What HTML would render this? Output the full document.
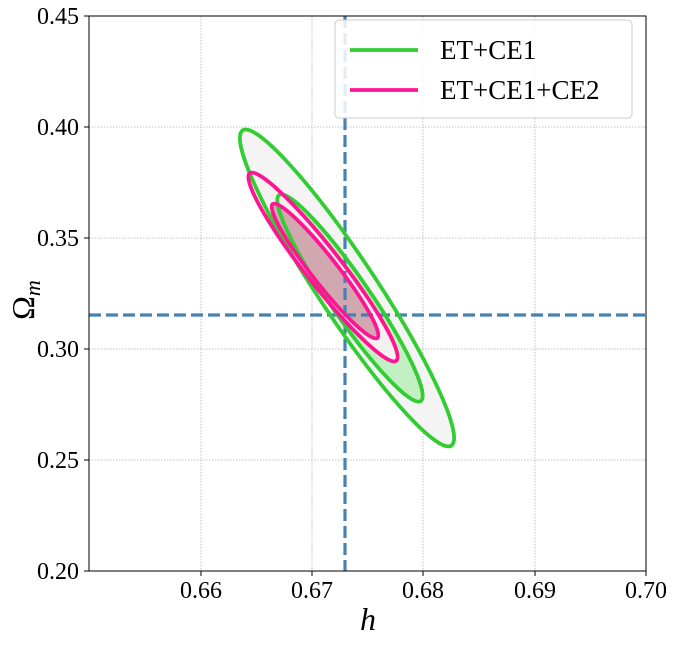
<!DOCTYPE html>
<html><head><style>body{margin:0;background:#fff}</style></head><body>
<svg width="676" height="640" xmlns="http://www.w3.org/2000/svg" font-family="Liberation Serif, serif">
<rect width="676" height="640" fill="#fff"/>
<g stroke="#b0b0b0" stroke-width="0.8" stroke-dasharray="1.5,1.5">
<line x1="201" y1="16" x2="201" y2="571"/><line x1="312" y1="16" x2="312" y2="571"/><line x1="423" y1="16" x2="423" y2="571"/><line x1="535" y1="16" x2="535" y2="571"/>
<line x1="89" y1="127" x2="646" y2="127"/><line x1="89" y1="238" x2="646" y2="238"/><line x1="89" y1="349" x2="646" y2="349"/><line x1="89" y1="460" x2="646" y2="460"/>
</g>
<ellipse cx="347" cy="288" rx="189" ry="29" transform="rotate(56.5 347 288)" fill="#f4f4f4"/>
<ellipse cx="350" cy="298" rx="125" ry="20" transform="rotate(55.5 350 298)" fill="#c2f0c2"/>
<ellipse cx="323" cy="267" rx="119" ry="18" transform="rotate(52 323 267)" fill="#f3f0f0"/>
<ellipse cx="325" cy="271" rx="85" ry="13" transform="rotate(52 325 271)" fill="#d2a8b0"/>
<g stroke="#4682b4" stroke-width="3.2" stroke-dasharray="12,5">
<line x1="345" y1="16" x2="345" y2="571"/><line x1="89" y1="315" x2="646" y2="315"/>
</g>
<g fill="none" stroke-width="3.8">
<ellipse cx="347" cy="288" rx="189" ry="29" transform="rotate(56.5 347 288)" stroke="#32cd32"/>
<ellipse cx="350" cy="298" rx="125" ry="20" transform="rotate(55.5 350 298)" stroke="#32cd32"/>
<ellipse cx="323" cy="267" rx="119" ry="18" transform="rotate(52 323 267)" stroke="#ff1493"/>
<ellipse cx="325" cy="271" rx="85" ry="13" transform="rotate(52 325 271)" stroke="#ff1493"/>
</g>
<rect x="89" y="16" width="557" height="555" fill="none" stroke="#000" stroke-width="1"/>
<g stroke="#000"><line x1="201" y1="571" x2="201" y2="576"/><line x1="312" y1="571" x2="312" y2="576"/><line x1="423" y1="571" x2="423" y2="576"/><line x1="535" y1="571" x2="535" y2="576"/><line x1="646" y1="571" x2="646" y2="576"/>
<line x1="84" y1="16" x2="89" y2="16"/><line x1="84" y1="127" x2="89" y2="127"/><line x1="84" y1="238" x2="89" y2="238"/><line x1="84" y1="349" x2="89" y2="349"/><line x1="84" y1="460" x2="89" y2="460"/><line x1="84" y1="571" x2="89" y2="571"/></g>
<g font-size="24" text-anchor="middle"><text x="201" y="598">0.66</text><text x="312" y="598">0.67</text><text x="423" y="598">0.68</text><text x="535" y="598">0.69</text><text x="646" y="598">0.70</text></g>
<g font-size="24" text-anchor="end"><text x="79" y="24">0.45</text><text x="79" y="135">0.40</text><text x="79" y="246">0.35</text><text x="79" y="357">0.30</text><text x="79" y="468">0.25</text><text x="79" y="579">0.20</text></g>
<text x="368" y="630" font-size="32" font-style="italic" text-anchor="middle">h</text>
<text transform="translate(34 300) rotate(-90)" font-size="32" text-anchor="middle">Ω<tspan font-size="22" font-style="italic" dy="6">m</tspan></text>
<rect x="335" y="20" width="297" height="98" rx="4" fill="#fff" fill-opacity="0.85" stroke="#ccc"/>
<line x1="350" y1="50" x2="418" y2="50" stroke="#32cd32" stroke-width="3.8"/>
<line x1="350" y1="90" x2="418" y2="90" stroke="#ff1493" stroke-width="3.8"/>
<text x="440" y="59" font-size="27">ET+CE1</text>
<text x="440" y="99" font-size="27">ET+CE1+CE2</text>
</svg>
</body></html>
